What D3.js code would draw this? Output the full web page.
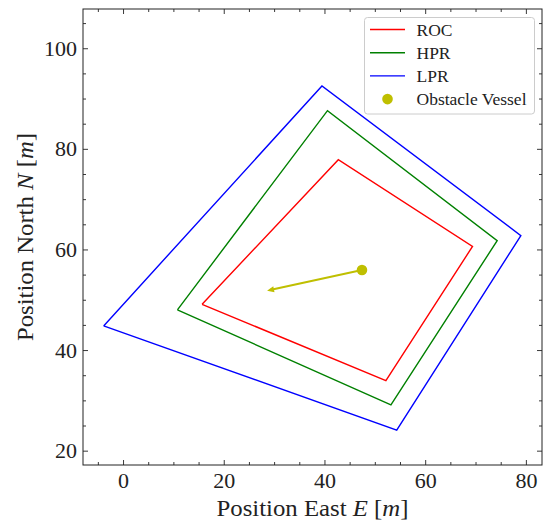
<!DOCTYPE html>
<html>
<head>
<meta charset="utf-8">
<script src="https://cdn.jsdelivr.net/npm/d3@7"></script>
<style>
  html, body { margin: 0; padding: 0; background: #fff; }
  text { font-family: "Liberation Serif", "DejaVu Serif", serif; fill: #222; }
</style>
</head>
<body>
<div id="chart"></div>
<script>
// Region corners as [East, North]
const rocEast = [15.7, 42.75, 69.4, 52.2]
const rocNorth = [49.1, 77.85, 60.6, 33.9]
const hprEast = [10.8, 40.6, 74.3, 53.2]
const hprNorth = [48.0, 87.6, 61.75, 29.1]
const lprEast = [-3.85, 39.5, 79.0, 54.35]
const lprNorth = [44.8, 92.5, 62.75, 24.1]

const vesselEast = [47.45]
const vesselNorth = [55.9]
const headingEast = [28.6]
const headingNorth = [51.8]

const xTicks = [0, 20, 40, 60, 80]
const yTicks = [20, 40, 60, 80, 100]

const seriesNames = ["ROC", "HPR", "LPR"]
const seriesColors = { ROC: "#ff0000", HPR: "#008000", LPR: "#0000ff" }
const vesselColor = "#bfbf00"

const width = 543
const height = 521
const margin = { top: 9, right: 1, bottom: 56, left: 83 }
const innerW = width - margin.left - margin.right
const innerH = height - margin.top - margin.bottom

const svg = d3.select("#chart")
  .append("svg")
  .attr("width", width)
  .attr("height", height)

const g = svg.append("g")
  .attr("transform", `translate(${margin.left},${margin.top})`)

const x = d3.scaleLinear().domain([-7.95, 83.2]).range([0, innerW])
const y = d3.scaleLinear().domain([17.15, 107.8]).range([innerH, 0])

const clip = svg.append("clipPath").attr("id", "plot-clip")
clip.append("rect").attr("width", innerW).attr("height", innerH)

const series = {
  ROC: rocEast.map((e, i) => [e, rocNorth[i]]),
  HPR: hprEast.map((e, i) => [e, hprNorth[i]]),
  LPR: lprEast.map((e, i) => [e, lprNorth[i]])
}

const line = d3.line().x(d => x(d[0])).y(d => y(d[1]))

const plot = g.append("g").attr("clip-path", "url(#plot-clip)")

seriesNames.forEach(name => {
  const pts = series[name]
  plot.append("path")
    .attr("d", line(pts.concat([pts[0]])))
    .attr("fill", "none")
    .attr("stroke", seriesColors[name])
    .attr("stroke-width", 1.4)
    .attr("stroke-linejoin", "miter")
})

// Obstacle heading arrow
const x0 = x(vesselEast[0]), y0 = y(vesselNorth[0])
const x1 = x(headingEast[0]), y1 = y(headingNorth[0])
const ang = Math.atan2(y1 - y0, x1 - x0)
const headLen = 7, headW = 3
plot.append("line")
  .attr("x1", x0).attr("y1", y0)
  .attr("x2", x1 - Math.cos(ang) * 3).attr("y2", y1 - Math.sin(ang) * 3)
  .attr("stroke", vesselColor)
  .attr("stroke-width", 2)
const bx = x1 - Math.cos(ang) * headLen, by = y1 - Math.sin(ang) * headLen
plot.append("path")
  .attr("d", `M${x1},${y1}L${bx - Math.sin(ang) * headW},${by + Math.cos(ang) * headW}` +
    `L${bx + Math.sin(ang) * headW},${by - Math.cos(ang) * headW}Z`)
  .attr("fill", vesselColor)

plot.selectAll("circle.vessel")
  .data(vesselEast.map((e, i) => [e, vesselNorth[i]]))
  .enter()
  .append("circle")
  .attr("class", "vessel")
  .attr("cx", d => x(d[0]))
  .attr("cy", d => y(d[1]))
  .attr("r", 5.3)
  .attr("fill", vesselColor)

// Axes: ticks inward on all four sides
const minorX = d3.range(-5, 85, 5).filter(v => !xTicks.includes(v))
const minorY = d3.range(20, 110, 5).filter(v => !yTicks.includes(v))

function tickGroup(axis, transform) {
  const a = g.append("g").attr("transform", transform).call(axis)
  a.selectAll(".domain").remove()
  a.selectAll(".tick line").attr("stroke", "#222").attr("stroke-width", 0.9)
  return a
}

const fmt = d3.format("d")
const bottomMajor = tickGroup(d3.axisBottom(x).tickValues(xTicks).tickSize(-5).tickFormat(fmt), `translate(0,${innerH})`)
bottomMajor.selectAll("text")
  .attr("font-size", "22px").attr("fill", "#222")
  .attr("y", 23).attr("dy", null)
tickGroup(d3.axisBottom(x).tickValues(minorX).tickSize(-3).tickFormat(""), `translate(0,${innerH})`)
tickGroup(d3.axisTop(x).tickValues(xTicks).tickSize(-5).tickFormat(""), "translate(0,0)")
tickGroup(d3.axisTop(x).tickValues(minorX).tickSize(-3).tickFormat(""), "translate(0,0)")

const leftMajor = tickGroup(d3.axisLeft(y).tickValues(yTicks).tickSize(-5).tickPadding(6).tickFormat(fmt), "translate(0,0)")
leftMajor.selectAll("text").attr("font-size", "22px").attr("fill", "#222")
tickGroup(d3.axisLeft(y).tickValues(minorY).tickSize(-3).tickFormat(""), "translate(0,0)")
tickGroup(d3.axisRight(y).tickValues(yTicks).tickSize(-5).tickFormat(""), `translate(${innerW},0)`)
tickGroup(d3.axisRight(y).tickValues(minorY).tickSize(-3).tickFormat(""), `translate(${innerW},0)`)

g.append("rect")
  .attr("width", innerW).attr("height", innerH)
  .attr("fill", "none")
  .attr("stroke", "#222")
  .attr("stroke-width", 1)

// Axis labels
const xLabel = svg.append("text")
  .attr("x", margin.left + innerW / 2)
  .attr("y", 516)
  .attr("text-anchor", "middle")
  .attr("font-size", "23px")
  .attr("textLength", 192)
  .attr("lengthAdjust", "spacingAndGlyphs")
xLabel.append("tspan").text("Position East ")
xLabel.append("tspan").attr("font-style", "italic").text("E")
xLabel.append("tspan").text(" [")
xLabel.append("tspan").attr("font-style", "italic").text("m")
xLabel.append("tspan").text("]")

const yLabel = svg.append("text")
  .attr("transform", `translate(33,${margin.top + innerH / 2}) rotate(-90)`)
  .attr("text-anchor", "middle")
  .attr("font-size", "23px")
  .attr("textLength", 208)
  .attr("lengthAdjust", "spacingAndGlyphs")
yLabel.append("tspan").text("Position North ")
yLabel.append("tspan").attr("font-style", "italic").text("N")
yLabel.append("tspan").text(" [")
yLabel.append("tspan").attr("font-style", "italic").text("m")
yLabel.append("tspan").text("]")

// Legend
const legend = svg.append("g").attr("transform", "translate(364.5,17.5)")
legend.append("rect")
  .attr("width", 170).attr("height", 96.5)
  .attr("rx", 3)
  .attr("fill", "#fff").attr("fill-opacity", 0.8)
  .attr("stroke", "#cccccc").attr("stroke-width", 1)

const legendItems = seriesNames.concat(["Obstacle Vessel"])
legendItems.forEach((name, i) => {
  const ly = 12 + i * 23.2
  if (seriesColors[name]) {
    legend.append("line")
      .attr("x1", 5.5).attr("x2", 40.5)
      .attr("y1", ly).attr("y2", ly)
      .attr("stroke", seriesColors[name])
      .attr("stroke-width", 1.4)
  } else {
    legend.append("circle")
      .attr("cx", 23).attr("cy", ly)
      .attr("r", 5.3)
      .attr("fill", vesselColor)
  }
  legend.append("text")
    .attr("x", 52)
    .attr("y", ly)
    .attr("dy", "0.35em")
    .attr("font-size", "17.5px")
    .text(name)
})
</script>
</body>
</html>
